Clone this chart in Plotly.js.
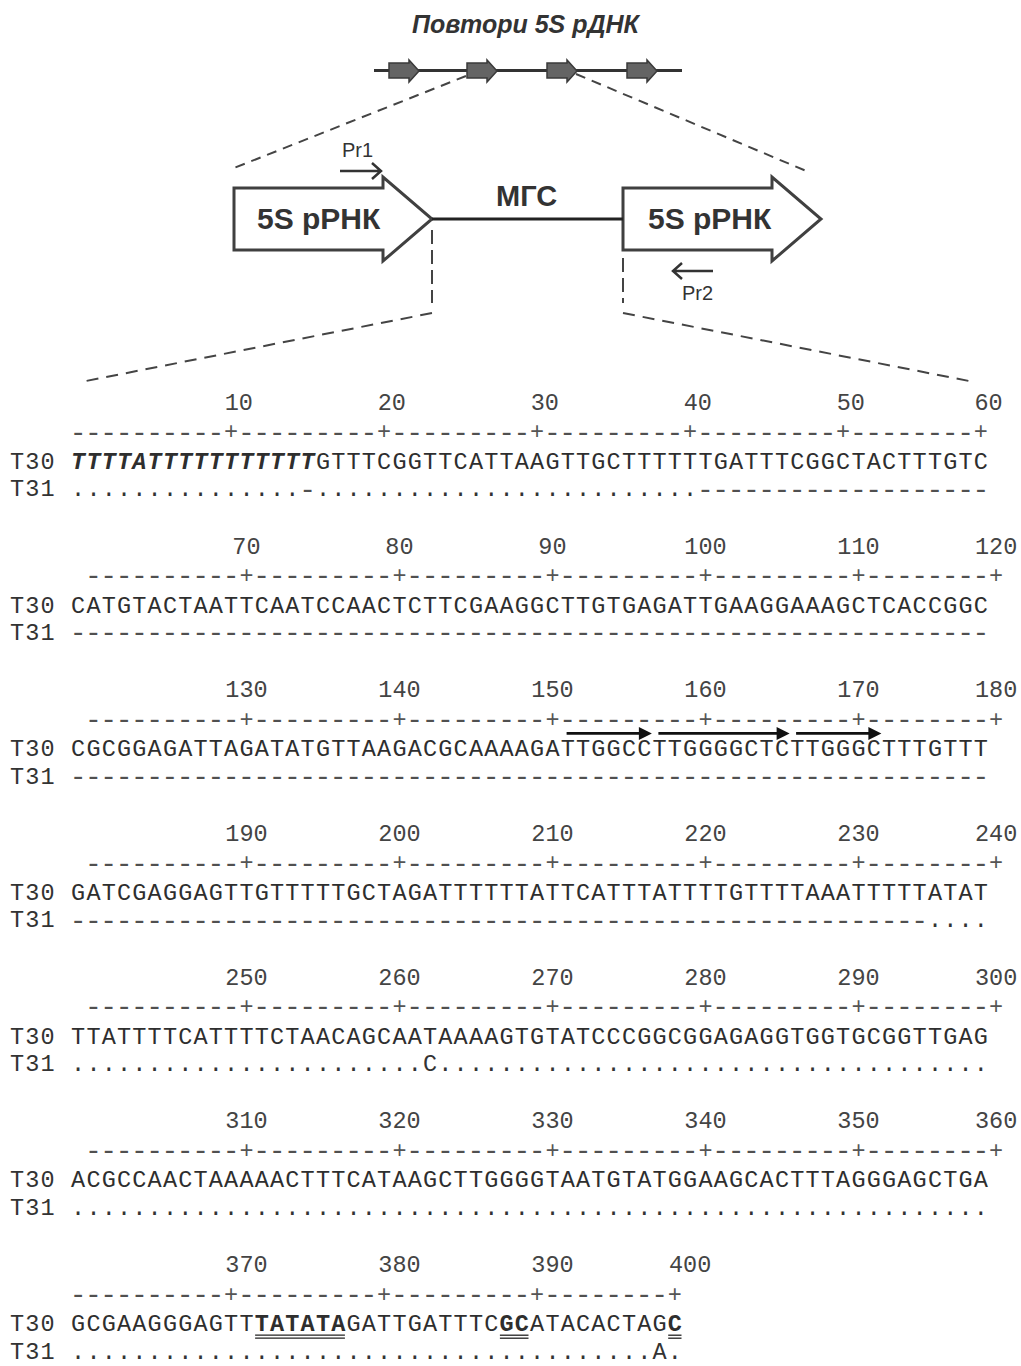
<!DOCTYPE html>
<html><head><meta charset="utf-8">
<script src="https://cdn.plot.ly/plotly-3.0.1.min.js"></script>
<style>html,body{margin:0;padding:0;background:#fff}#chart{width:1021px;height:1366px}</style>
</head><body><div id="chart"></div>
<script>
// ---------------- data ----------------
const blockStarts = [1, 61, 121, 181, 241, 301, 361];
const seqT30 = [
  "TTTTATTTTTTTTTTTGTTTCGGTTCATTAAGTTGCTTTTTTGATTTCGGCTACTTTGTC",
  "CATGTACTAATTCAATCCAACTCTTCGAAGGCTTGTGAGATTGAAGGAAAGCTCACCGGC",
  "CGCGGAGATTAGATATGTTAAGACGCAAAAGATTGGCCTTGGGGCTCTTGGGCTTTGTTT",
  "GATCGAGGAGTTGTTTTTGCTAGATTTTTTATTCATTTATTTTGTTTTAAATTTTTATAT",
  "TTATTTTCATTTTCTAACAGCAATAAAAGTGTATCCCGGCGGAGAGGTGGTGCGGTTGAG",
  "ACGCCAACTAAAAACTTTCATAAGCTTGGGGTAATGTATGGAAGCACTTTAGGGAGCTGA",
  "GCGAAGGGAGTTTATATAGATTGATTTCGCATACACTAGC"
];
const seqT31 = [
  "...............-.........................-------------------",
  "------------------------------------------------------------",
  "------------------------------------------------------------",
  "--------------------------------------------------------....",
  ".......................C....................................",
  "............................................................",
  "......................................A."
];
const rowLabels = ["T30", "T31"];
const boldItalicRanges = [[1, 16]];                       // T30 positions
const boldUnderlinedRanges = [[373, 378], [389, 390], [400, 400]];
const repeatArrows = [[153, 158], [159, 167], [168, 173]];
const diagramTitle = "Повтори 5S рДНК";
const geneLabel = "5S рРНК";
const spacerLabel = "МГС";
const primerLabels = ["Pr1", "Pr2"];

// ---------------- layout constants ----------------
const W = 1021, H = 1366;
const X0 = 62.85, CW = 15.3;              // column centre = X0 + c*CW
const Y0 = 404, BH = 143.7;               // block vertical pitch
const DY = {num: 0, ruler: 29.5, t30: 59, t31: 86.5};
const rulerShift = [0, 1, 1, 1, 1, 1, 0];
const numShift = [0.5, 0, 0, 0, 0, 0, 1];
const colX = c => X0 + c * CW;
const FS = 23.5, FS_DASH = 28;
const MONO = "Liberation Mono, Courier New, monospace";

function inRanges(p, ranges) { return ranges.some(r => p >= r[0] && p <= r[1]); }
const mk = () => ({x: [], y: [], t: []});
const lab = mk(), num = mk(), rulPlus = mk(), dashes = mk(), s30 = mk(), s31 = mk();
const put = (d, x, y, t) => { d.x.push(x); d.y.push(y); d.t.push(t); };
const ulX = [], ulY1 = [], ulY2 = [];
const annotations = [];

blockStarts.forEach((start, b) => {
  const yb = Y0 + b * BH;
  const L = seqT30[b].length;
  rowLabels.forEach((lb, r) => {
    const yy = yb + (r === 0 ? DY.t30 : DY.t31);
    for (let i = 0; i < lb.length; i++) put(lab, colX(i - lb.length), yy, lb[i]);
  });
  const plusCols = [];
  for (let k = 1; k <= L / 10; k++) plusCols.push(k < L / 10 ? 10 * k + 1 : L);
  for (let c = 1; c <= L; c++) {
    if (plusCols.includes(c)) put(rulPlus, colX(c + rulerShift[b]), yb + DY.ruler, "+");
    else put(dashes, colX(c + rulerShift[b]), yb + DY.ruler, "-");
  }
  plusCols.forEach((pc, k) => put(num, colX(pc + rulerShift[b] + numShift[b]), yb + DY.num, String(start - 1 + 10 * (k + 1))));
  for (let i = 0; i < L; i++) {
    const p = start + i, c = i + 1;
    let ch = seqT30[b][i];
    if (inRanges(p, boldItalicRanges)) ch = "<b><i>" + ch + "</i></b>";
    else if (inRanges(p, boldUnderlinedRanges)) ch = "<b>" + ch + "</b>";
    put(s30, colX(c), yb + DY.t30, ch);
    const c31 = seqT31[b][i];
    if (c31 === "-") put(dashes, colX(c), yb + DY.t31, c31);
    else put(s31, colX(c), yb + DY.t31, c31);
  }
  boldUnderlinedRanges.forEach(r => {
    if (r[0] >= start && r[1] < start + L) {
      const c1 = r[0] - start + 1, c2 = r[1] - start + 1;
      ulX.push(colX(c1) - CW / 2 + 1, colX(c2) + CW / 2 - 1, null);
      ulY1.push(yb + DY.t30 + 10, yb + DY.t30 + 10, null);
      ulY2.push(yb + DY.t30 + 13, yb + DY.t30 + 13, null);
    }
  });
  repeatArrows.forEach(r => {
    if (r[0] >= start && r[1] < start + L) {
      const c1 = r[0] - start + 1, c2 = r[1] - start + 1;
      const ya = yb + DY.t30 - 17;
      annotations.push({xref: 'x', yref: 'y', axref: 'x', ayref: 'y',
        x: colX(c2) + CW / 2, y: ya, ax: colX(c1) - CW / 2 + 5, ay: ya,
        text: '', showarrow: true, arrowhead: 2, arrowsize: 1, arrowwidth: 2.6, arrowcolor: '#111', standoff: 0, startstandoff: 0});
    }
  });
});

function textTrace(d, color, size) {
  return {type: 'scatter', mode: 'text', x: d.x, y: d.y, text: d.t, textposition: 'middle center',
    textfont: {family: MONO, size: size || FS, color: color}, hoverinfo: 'skip', showlegend: false, cliponaxis: false};
}
const traces = [
  textTrace(lab, '#333'), textTrace(num, '#444'), textTrace(rulPlus, '#555'), textTrace(dashes, '#505050', FS_DASH),
  textTrace(s30, '#2e2e2e'), textTrace(s31, '#333'),
  {type: 'scatter', mode: 'lines', x: ulX, y: ulY1, line: {color: '#222', width: 1.3}, hoverinfo: 'skip', showlegend: false},
  {type: 'scatter', mode: 'lines', x: ulX, y: ulY2, line: {color: '#222', width: 1.3}, hoverinfo: 'skip', showlegend: false}
];

// ---------------- schematic ----------------
const SANS = "Liberation Sans, Arial, sans-serif";
const shapes = [];
const ln = (x0, y0, x1, y1, w, col, dash) => shapes.push({type: 'line', xref: 'x', yref: 'y', x0, y0, x1, y1,
  line: {color: col, width: w, dash: dash || 'solid'}, layer: 'above'});
const path = (p, w, col, fill) => shapes.push({type: 'path', xref: 'x', yref: 'y', path: p,
  line: {color: col, width: w}, fillcolor: fill || 'rgba(0,0,0,0)', layer: 'above'});

ln(374, 70.5, 682, 70.5, 3, '#333');
[389, 467, 547, 627].forEach(x => path(`M${x},63 L${x+20},63 L${x+20},60 L${x+30},71 L${x+20},82 L${x+20},78 L${x},78 Z`, 1.5, '#3a3a3a', '#646464'));
ln(466, 76, 234, 168, 2, '#444', '10px,7px');
ln(576, 74, 811, 173, 2, '#444', '10px,7px');
path('M234,188 L383,188 L383,177 L432,219 L383,261 L383,250 L234,250 Z', 3, '#404040', '#fff');
path('M623,188 L772,188 L772,177 L821,219 L772,261 L772,250 L623,250 Z', 3, '#404040', '#fff');
ln(432, 219, 623, 219, 3, '#222');
path('M340,171 L381,171 M372,163 L381,171 L372,179', 2.5, '#333');
path('M713,271 L673,271 M682,263 L673,271 L682,279', 2.5, '#333');
ln(432, 230, 432, 303, 2, '#444', '14px,6px');
ln(623, 258, 623, 303, 2, '#444', '14px,6px');
ln(432, 313, 86, 381, 2, '#444', '12px,8px');
ln(623, 313, 969, 381, 2, '#444', '12px,8px');

const txt = (x, y, s, size) => annotations.push({xref: 'x', yref: 'y', x, y, text: s,
  showarrow: false, xanchor: 'center', yanchor: 'middle', font: {family: SANS, size, color: '#333'}});
txt(526.5, 24, '<b><i>' + diagramTitle + '</i></b>', 25);
txt(319, 218, '<b>' + geneLabel + '</b>', 30);
txt(710, 218, '<b>' + geneLabel + '</b>', 30);
txt(526, 196, '<b>' + spacerLabel + '</b>', 29);
txt(357, 150, primerLabels[0], 20);
txt(697, 293, primerLabels[1], 20);

const layout = {
  width: W, height: H, margin: {l: 0, r: 0, t: 0, b: 0, pad: 0},
  paper_bgcolor: '#fff', plot_bgcolor: '#fff', showlegend: false,
  xaxis: {range: [0, W], visible: false, fixedrange: true},
  yaxis: {range: [H, 0], visible: false, fixedrange: true},
  shapes, annotations
};
Plotly.newPlot('chart', traces, layout, {staticPlot: true, displayModeBar: false});
</script></body></html>
